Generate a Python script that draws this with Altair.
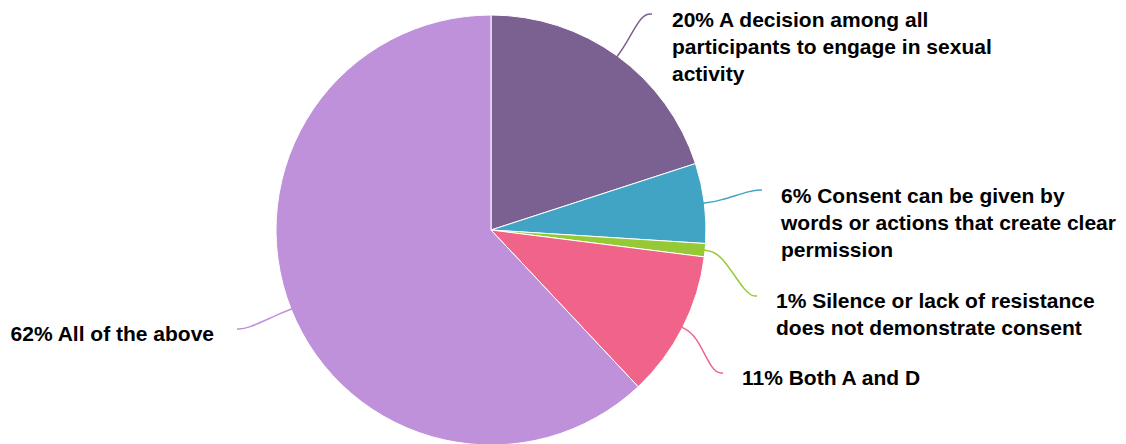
import math
import altair as alt
import pandas as pd

# ---- data ----
labels = [
    "20% A decision among all\nparticipants to engage in sexual\nactivity",
    "6% Consent can be given by\nwords or actions that create clear\npermission",
    "1% Silence or lack of resistance\ndoes not demonstrate consent",
    "11% Both A and D",
    "62% All of the above",
]
keys = ["A", "B", "C", "D", "E"]
values = [20, 6, 1, 11, 62]
colors = ["#7b6191", "#41a4c4", "#95c935", "#f06489", "#bf91db"]

# ---- layout (view pixel space) ----
W, H = 1110, 436
CX, CY, R = 483, 222, 215
label_x = [664, 773, 768, 734, 206]
label_y = [19, 195, 300, 377, 333]
label_align = ["left", "left", "left", "left", "right"]
line_end_x = [644, 754, 749, 715, 229]
line_end_y = [6, 182, 288, 365, 321]

total = sum(values)
pie_df = pd.DataFrame({"key": keys, "value": values, "order": list(range(len(keys)))})

# leader lines derived from slice mid-angles
rows = []
cum = 0
for i, v in enumerate(values):
    a = (cum + v / 2) / total * 2 * math.pi
    cum += v
    sx, sy = CX + (R - 1) * math.sin(a), CY - (R - 1) * math.cos(a)
    d = 16
    p1x, p1y = sx + d * math.sin(a), sy - d * math.cos(a)
    ex, ey = line_end_x[i], line_end_y[i]
    sgn = 1 if ex > CX else -1
    p2x, p2y = ex - sgn * 10, ey
    for j, (px, py) in enumerate([(sx, sy), (p1x, p1y), (p2x, p2y), (ex, ey)]):
        rows.append({"key": keys[i], "px": px, "py": py, "pt": j})
line_df = pd.DataFrame(rows)

text_df = pd.DataFrame({"key": keys, "label": labels, "lx": label_x, "ly": label_y, "al": label_align})

color_scale = alt.Scale(domain=keys, range=colors)
xs = alt.Scale(domain=[0, W], range=[0, W])
ys = alt.Scale(domain=[0, H], range=[0, H])

pie = alt.Chart(pie_df).mark_arc(outerRadius=R, stroke="white", strokeWidth=1).encode(
    theta=alt.Theta("value:Q", stack=True),
    order=alt.Order("order:Q"),
    color=alt.Color("key:N", scale=color_scale, legend=None),
    x=alt.value(CX),
    y=alt.value(CY),
)

lines = alt.Chart(line_df).mark_line(interpolate="basis", strokeWidth=1.5).encode(
    x=alt.X("px:Q", scale=xs, axis=None),
    y=alt.Y("py:Q", scale=ys, axis=None),
    detail="key:N",
    order=alt.Order("pt:Q"),
    color=alt.Color("key:N", scale=color_scale, legend=None),
)

def text_layer(align):
    return alt.Chart(text_df).transform_filter(alt.datum.al == align).mark_text(
        align=align, baseline="alphabetic", font="Liberation Sans, Arial, Helvetica, sans-serif",
        fontWeight="bold", fontSize=21.0, lineBreak="\n", lineHeight=26.8, color="#000000",
    ).encode(
        x=alt.X("lx:Q", scale=xs, axis=None),
        y=alt.Y("ly:Q", scale=ys, axis=None),
        text="label:N",
    )

chart = alt.layer(pie, lines, text_layer("left"), text_layer("right")).properties(
    width=W, height=H, padding=0, autosize="none"
).configure_view(stroke=None)

chart.save("out.html", embed_options={"renderer": "svg", "actions": False})
